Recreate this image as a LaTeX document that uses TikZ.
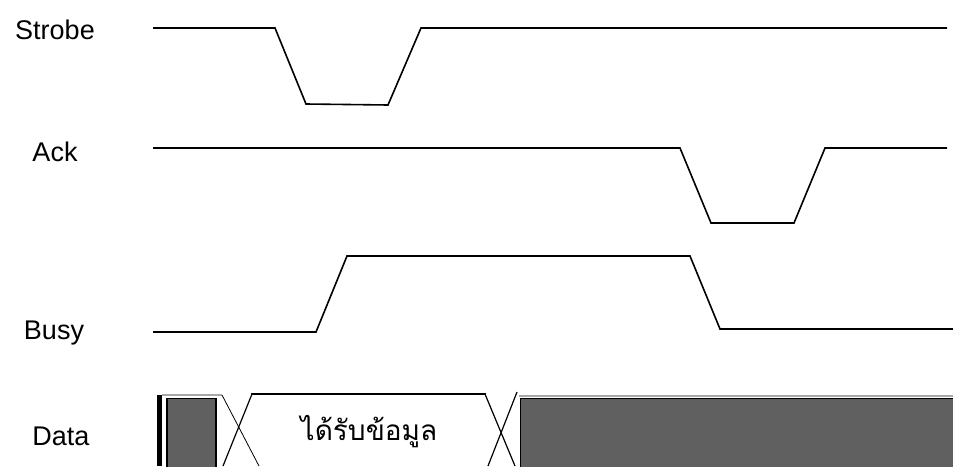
\documentclass[tikz,border=0pt]{standalone}
\usepackage{fontspec}
\setmainfont{Liberation Sans}
\newfontfamily\thaifont[Script=Thai]{Loma}
\definecolor{datagray}{HTML}{606060}
\definecolor{edgegray}{HTML}{A8A8A8}
\begin{document}
\begin{tikzpicture}[x=1pt,y=-1pt,
  sig/.style={line width=1.6pt,line join=miter},
  lbl/.style={font=\fontsize{27}{30}\selectfont,inner sep=0pt},
  xline/.style={line width=1.2pt},
  xthin/.style={line width=0.8pt},
  box/.style={fill=datagray,draw=black,line width=1.4pt}]
\useasboundingbox (0,0) rectangle (953,466);
% labels
\node[lbl] (lstrobe) at (55,30) {Strobe};
\node[lbl] (lack) at (55,152) {Ack};
\node[lbl] (lbusy) at (54,333) {Busy};
\node[lbl] (ldata) at (61,436) {Data};
% Strobe
\draw[sig] (153,28) -- (275,28) -- (306,104) -- (388,105) -- (421,28) -- (947,28);
% Ack
\draw[sig] (153,148) -- (680,148) -- (711,223) -- (794,223) -- (825,148) -- (947,148);
% Busy
\draw[sig] (153,332) -- (316,332) -- (347,256) -- (690,256) -- (720,329) -- (953,329);
% Data row
\fill[black] (157,395) rectangle (162,466);
\draw[edgegray,line width=1.4pt] (162,395) -- (222,395);
\draw[box] (167,398.5) rectangle (216,470);
\draw[xthin] (222,395) -- (259,466);
\draw[xline] (252,394) -- (223,466);
\draw[line width=2.6pt] (251,394) -- (486,394);
\draw[xline] (485,394) -- (515,466);
\draw[xline] (517,392) -- (488,466);
\draw[edgegray,line width=1.4pt] (519,396) -- (953,396);
\draw[box] (520.5,398.5) rectangle (960,470);
\node[inner sep=0pt,font=\thaifont\fontsize{28}{32}\selectfont] (dtext) at (369,432) {ได้รับข้อมูล};
\end{tikzpicture}
\end{document}
